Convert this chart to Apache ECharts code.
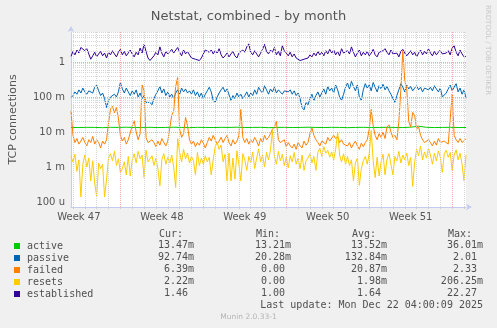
<!DOCTYPE html>
<html><head><meta charset="utf-8">
<script src="https://cdn.jsdelivr.net/npm/echarts@6/dist/echarts.min.js"></script>
<style>html,body{margin:0;padding:0;background:#F0F0F0;}#c{width:497px;height:328px;}</style>
</head><body><div id="c"></div>
<script>
// ---- time base: hours since Sun 2025-11-16 00:00 ----
const START_HOUR = 68;      // Tue 2025-11-18 20:00
const END_HOUR = 868;       // Mon 2025-12-22 04:00
const STEP_HOURS = 4;       // main series sample step
const ACTIVE_STEP_HOURS = 16;

const seriesNames = ['active', 'passive', 'failed', 'resets', 'established'];
const seriesColors = ['#00CC00', '#0066B3', '#FF8000', '#FFCC00', '#330099'];

const weekLabelHours = [84, 252, 420, 588, 756];
const weekLabels = ['Week 47', 'Week 48', 'Week 49', 'Week 50', 'Week 51'];
const yTickValues = [0.0001, 0.001, 0.01, 0.1, 1];
const yTickLabels = ['100 u', '1 m', '10 m', '100 m', '1'];

// values in milli-units (m)
const active_m = [13.5,13.4,13.6,13.5,13.3,13.6,13.5,13.7,13.4,13.5, 13.6,13.4,13.5,13.7,13.5,13.3,13.6,13.5,13.4,13.6,
  13.5,13.7,13.4,13.5,13.6,13.3,13.5,13.6,13.4,13.5, 13.7,13.5,13.4,13.6,13.5,13.3,13.5,13.6,13.4,13.5,
  13.6,13.5,13.4,13.7,14.6,13.6,13.4,13.5,13.6,13.4, 13.47];

// values in plain units
const passive = [
  0.095,0.11,0.14,0.12,0.16,0.13,0.18,0.14,0.12,0.15,
  0.17,0.13,0.19,0.22,0.15,0.11,0.13,0.09,0.05,0.08,
  0.1,0.09,0.12,0.1,0.14,0.26,0.17,0.13,0.18,0.14,
  0.11,0.15,0.12,0.16,0.1,0.13,0.09,0.11,0.07,0.065,
  0.07,0.06,0.09,0.12,0.15,0.2,0.13,0.17,0.11,0.14,
  0.1,0.12,0.09,0.13,0.16,0.12,0.18,0.14,0.17,0.13,
  0.15,0.12,0.16,0.11,0.14,0.1,0.13,0.09,0.12,0.15,
  0.19,0.14,0.08,0.07,0.1,0.13,0.16,0.19,0.14,0.17,
  0.15,0.08,0.11,0.09,0.13,0.1,0.12,0.09,0.11,0.14,
  0.1,0.13,0.11,0.16,0.12,0.19,0.15,0.13,0.21,0.16,
  0.12,0.17,0.14,0.19,0.13,0.16,0.18,0.12,0.15,0.17,
  0.14,0.16,0.12,0.15,0.11,0.13,0.09,0.05,0.043,0.07,
  0.06,0.09,0.12,0.08,0.11,0.14,0.1,0.13,0.17,0.12,
  0.2,0.15,0.18,0.13,0.22,0.16,0.1,0.08,0.12,0.19,
  0.25,0.17,0.28,0.2,0.15,0.22,0.1,0.08,0.16,0.24,
  0.18,0.22,0.15,0.26,0.19,0.14,0.21,0.17,0.23,0.16,
  0.2,0.15,0.12,0.09,0.07,0.11,0.16,0.24,0.19,0.14,
  0.22,0.17,0.2,0.15,0.18,0.21,0.16,0.19,0.14,0.18,
  0.2,0.16,0.19,0.15,0.21,0.17,0.14,0.18,0.1,0.09,
  0.13,0.17,0.22,0.15,0.19,0.24,0.14,0.18,0.12,0.16,
  0.093];

const failed_m = [
  40,8,5,6.5,4.5,5.5,7,5,4,6,
  5,7.5,4.5,6,5,3.5,5.5,4.5,6,18,
  45,55,35,50,25,8,5.5,7,4.5,6,
  5.5,15,21,10,6,9,220,150,7,5,
  4.5,6,5,3.8,5.5,4.2,6.5,5,4,5.5,
  6,30,40,200,360,12,7,9,26,15,
  6,4.5,5.5,3.8,5,4.2,6,4.8,3.5,5,
  7,5.5,8,6,4.5,5.5,7,5,6.5,8,
  5,4,6,4.5,5.5,8,44,7,5,6.5,
  4.5,6,5,7,5.5,4,6.5,5,8,6,
  7,9,12,14,20,6,5,4.5,6,3.8,
  5,4,3.5,4.5,3.2,5,4,3.5,5.5,4.2,
  5,9,13,8,6,5,4,5.5,6,4.5,
  7,5.5,6,8,6.5,7.5,5,6,4.5,5,
  4,5,3.5,4.5,5.5,4,3.2,4.8,3.8,5,
  6,12,44,15,8,6,9,7,10,6.5,
  14,16,10,7,8,6,20,160,2100,300,
  170,20,14,36,30,12,14,8,6,5,
  4.5,6,5,4,5.5,4.2,6.5,5,4.5,5.5,
  6,4.5,5,120,8,6,5,6.5,5,5.5,
  6.39];

const resets_m = [
  2.0,1.4,2.3,0.75,1.6,0.14,1.2,2.2,1.0,1.8,
  0.4,1.5,0.35,0.14,1.3,0.9,1.2,0.14,0.45,1.8,
  2.4,1.5,2.8,1.1,1.7,0.7,0.9,1.4,0.6,2.0,
  0.55,1.6,2.4,1.3,2.8,1.7,2.2,0.5,3.0,1.4,
  1.5,2.1,1.1,1.8,0.9,0.29,1.6,2.4,1.2,1.9,
  1.3,2.2,1.0,0.26,6.5,2.6,1.4,3.2,1.7,2.5,
  1.3,2.0,1.5,0.6,2.6,1.1,1.8,1.2,2.1,1.4,
  1.9,0.6,1.6,3.8,5.0,3.2,4.2,1.4,2.3,0.4,
  2.5,0.4,1.8,0.45,2.9,1.2,0.4,2.4,1.6,0.8,
  2.0,1.3,2.7,0.9,1.8,3.3,1.4,2.2,1.0,2.6,
  1.6,3.0,11,2.0,1.2,2.8,1.5,2.3,1.1,1.9,
  0.95,2.1,1.4,2.6,1.2,1.8,0.9,2.2,0.8,1.5,
  1.8,2.4,1.3,2.0,0.8,2.6,3.4,2.0,3.8,2.5,
  3.0,1.9,2.7,1.6,3.2,10,2.2,1.4,2.4,1.2,
  2.0,1.1,1.6,0.4,1.3,1.8,0.3,0.9,1.5,2.0,
  1.2,2.4,11,1.5,0.5,1.9,0.55,1.4,2.3,0.6,
  1.7,2.4,1.2,0.6,2.0,1.5,2.8,1.3,2.2,1.6,
  2.5,1.1,1.9,0.28,1.4,3.2,2.1,4.0,1.6,2.7,
  1.8,3.4,2.2,1.2,2.5,1.5,2.9,1.9,0.7,2.4,
  3.0,1.9,2.6,0.8,2.2,3.1,1.6,2.5,1.2,0.4,
  2.22];

const established = [
  1.45,2.0,1.6,2.2,1.8,2.6,2.9,2.1,2.4,1.7,
  1.2,1.5,1.9,1.4,1.7,2.0,1.5,1.8,1.3,1.9,
  1.6,2.1,1.7,1.4,1.9,2.3,1.6,2.0,1.5,1.8,
  2.2,1.7,1.4,1.9,1.6,2.5,1.8,3.2,2.0,1.3,
  1.1,1.07,1.5,1.9,1.6,2.7,1.8,1.4,2.0,1.7,
  1.5,2.3,1.8,1.6,2.6,1.9,1.5,2.2,1.7,2.0,
  1.6,1.3,1.4,1.2,1.15,1.1,1.3,1.2,2.2,2.5,
  1.9,2.2,1.7,2.1,1.8,2.4,1.6,1.3,1.5,1.8,
  1.4,1.7,2.0,1.5,1.3,1.8,1.6,2.2,1.9,2.7,
  3.3,1.9,1.6,2.1,1.7,1.4,1.8,2.3,3.2,2.0,
  1.7,2.2,1.9,2.6,1.6,2.0,1.5,2.9,2.1,1.8,
  1.5,1.9,1.4,1.7,1.3,1.2,1.1,1.07,1.2,1.15,
  1.3,1.6,1.4,1.8,1.5,2.0,1.6,1.9,1.5,2.1,
  1.7,2.3,1.8,2.2,1.6,2.0,1.5,2.4,1.8,1.6,
  2.1,1.7,2.7,1.9,1.4,1.8,2.2,1.5,1.9,1.6,
  2.0,1.5,1.8,2.3,1.6,1.4,1.9,1.7,2.1,2.4,
  1.9,1.6,2.2,1.7,1.5,1.8,1.4,2.0,2.3,1.8,
  1.5,1.7,2.1,1.6,1.9,1.4,1.8,2.2,1.6,2.0,
  1.7,2.4,1.8,1.5,2.0,1.6,1.9,2.2,1.7,1.5,
  1.8,2.1,1.6,2.5,2.9,1.9,1.5,2.2,1.7,1.4,
  1.46];

// legend statistics (text as printed)
const statHeaders = ['Cur:', 'Min:', 'Avg:', 'Max:'];
const curVals = ['13.47m', '92.74m', '6.39m', '2.22m', '1.46 '];
const minVals = ['13.21m', '20.28m', '0.00 ', '0.00 ', '1.00 '];
const avgVals = ['13.52m', '132.84m', '20.87m', '1.98m', '1.64 '];
const maxVals = ['36.01m', '2.01 ', '2.33 ', '206.25m', '22.27 '];
const lastUpdate = 'Last update: Mon Dec 22 04:00:09 2025';
const versionText = 'Munin 2.0.33-1';
const sideText = 'RRDTOOL / TOBI OETIKER';

// ---- build ----
const Y_MIN = Math.pow(10, -4.143);
const Y_MAX = Math.pow(10, 0.857);

function pairs(arr, step, scale) {
  return arr.map((v, i) => [START_HOUR + i * step, v * scale]);
}
const seriesData = [
  pairs(active_m, ACTIVE_STEP_HOURS, 1e-3),
  pairs(passive, STEP_HOURS, 1),
  pairs(failed_m, STEP_HOURS, 1e-3),
  pairs(resets_m, STEP_HOURS, 1e-3),
  pairs(established, STEP_HOURS, 1)
];

// grid lines
const minorY = [], majorY = [];
for (let d = -5; d <= 0; d++) {
  for (let k = 1; k <= 9; k++) {
    const v = k * Math.pow(10, d);
    if (v < Y_MIN || v > Y_MAX) continue;
    if (k === 1) majorY.push({ yAxis: v }); else minorY.push({ yAxis: v });
  }
}
const dayX = [], weekX = [];
for (let h = 72; h < END_HOUR; h += 24) {
  if (h % 168 === 0) weekX.push({ xAxis: h }); else dayX.push({ xAxis: h });
}
const dayTicks = [];
for (let h = 72; h < END_HOUR; h += 24) dayTicks.push(h);

const GRAY = '#D6D6D6', RED = '#F2AAAA';
function gridSeries(name, lines, color) {
  return {
    name: name, type: 'line', data: [], z: 1, silent: true,
    markLine: { silent: true, symbol: ['none', 'none'], animation: false,
      label: { show: false }, emphasis: { disabled: true },
      lineStyle: { color: color, type: [1, 1], width: 1 }, data: lines }
  };
}

const TXT = '#505050';
const MONO = '"DejaVu Sans Mono", monospace';
const rowY = [245.7, 257.7, 269.7, 281.7, 293.5];
const colRight = [194, 291, 387, 483];
const colLeft = [159, 256, 352, 448];
const graphics = [];
statHeaders.forEach((t, j) => graphics.push({ type: 'text', x: colLeft[j], y: 234,
  style: { text: t, font: '10px ' + MONO, fill: TXT, textAlign: 'left', textVerticalAlign: 'middle' } }));
[curVals, minVals, avgVals, maxVals].forEach((col, j) => col.forEach((t, i) => graphics.push({
  type: 'text', x: colRight[j], y: rowY[i],
  style: { text: t, font: '10px ' + MONO, fill: TXT, textAlign: 'right', textVerticalAlign: 'middle' } })));
graphics.push({ type: 'text', x: 483, y: 305.6,
  style: { text: lastUpdate, font: '10px ' + MONO, fill: TXT, textAlign: 'right', textVerticalAlign: 'middle' } });
graphics.push({ type: 'text', x: 248.5, y: 317,
  style: { text: versionText, font: '7.5px "DejaVu Sans"', fill: '#B4B4B4', textAlign: 'center', textVerticalAlign: 'middle' } });
graphics.push({ type: 'text', x: 488, y: 5, rotation: -Math.PI / 2,
  style: { text: sideText, font: '7px "DejaVu Sans"', fill: '#C8C8C8', textAlign: 'left', textVerticalAlign: 'middle' } });

const chart = echarts.init(document.getElementById('c'), null, { renderer: 'canvas' });
const mainSeries = seriesNames.map((n, i) => ({
  name: n, type: 'line', data: seriesData[i], showSymbol: false, symbol: 'none',
  z: 3, lineStyle: { width: 1, color: seriesColors[i] }, itemStyle: { color: seriesColors[i] },
  emphasis: { disabled: true }, animation: false
}));

chart.setOption({
  animation: false,
  backgroundColor: '#F0F0F0',
  title: { text: 'Netstat, combined - by month', left: 'center', top: 5,
    textStyle: { fontSize: 13, fontWeight: 'normal', color: '#555', fontFamily: '"DejaVu Sans"' } },
  legend: { data: seriesNames, orient: 'vertical', left: 14, top: 240, padding: 0, itemWidth: 6, itemHeight: 6,
    itemGap: 0, icon: 'rect', selectedMode: false,
    itemStyle: { borderWidth: 0 },
    textStyle: { fontFamily: MONO, fontSize: 10, color: TXT, lineHeight: 12, padding: [0, 0, 0, 2] } },
  grid: { left: 66, right: 31, top: 32, bottom: 121, show: true, backgroundColor: '#FFFFFF', borderWidth: 0 },
  xAxis: {
    type: 'value', min: START_HOUR, max: END_HOUR,
    axisLine: { show: true, lineStyle: { color: '#C4CCF2', width: 1 }, symbol: ['none', 'arrow'], symbolSize: [5, 6], symbolOffset: [0, 6] },
    axisTick: { show: true, customValues: dayTicks, length: 2, lineStyle: { color: '#D0D0D0' } },
    axisLabel: { customValues: weekLabelHours, margin: 5, fontSize: 10, color: '#555', fontFamily: '"DejaVu Sans"',
      formatter: v => { const k = weekLabelHours.indexOf(Math.round(v)); return k >= 0 ? weekLabels[k] : ''; } },
    splitLine: { show: false }
  },
  yAxis: {
    type: 'log', logBase: 10, min: Y_MIN, max: Y_MAX,
    name: 'TCP connections', nameLocation: 'middle', nameGap: 52, nameRotate: 90,
    nameTextStyle: { fontSize: 11, color: '#555', fontFamily: '"DejaVu Sans"' },
    axisLine: { show: true, lineStyle: { color: '#C4CCF2', width: 1 }, symbol: ['none', 'arrow'], symbolSize: [5, 6], symbolOffset: [0, 6] },
    axisTick: { show: false },
    axisLabel: { showMinLabel: false, showMaxLabel: false, margin: 6, fontSize: 10, color: '#555', fontFamily: '"DejaVu Sans"',
      formatter: v => { let best = -1, bd = 1e9;
        yTickValues.forEach((t, i) => { const d = Math.abs(Math.log10(v) - Math.log10(t)); if (d < bd) { bd = d; best = i; } });
        return bd < 0.01 ? yTickLabels[best] : ''; } },
    splitLine: { show: false }
  },
  graphic: graphics,
  series: [
    gridSeries('gridMinorY', minorY, GRAY),
    gridSeries('gridDayX', dayX, GRAY),
    gridSeries('gridMajorY', majorY, RED),
    gridSeries('gridWeekX', weekX, RED)
  ].concat(mainSeries)
});
</script></body></html>
